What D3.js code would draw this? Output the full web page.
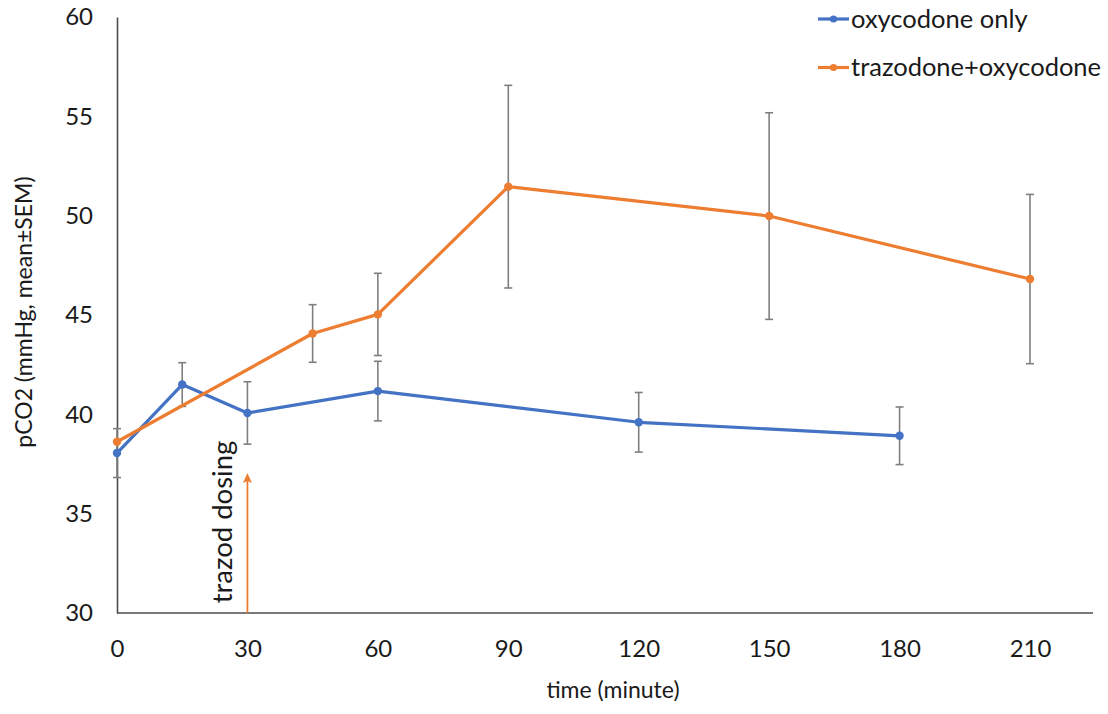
<!DOCTYPE html>
<html>
<head>
<meta charset="utf-8">
<script src="https://cdn.jsdelivr.net/npm/d3@7"></script>
<style>
  html, body { margin: 0; padding: 0; background: #ffffff; }
  svg { display: block; font-family: Lato, "Open Sans", "Liberation Sans", sans-serif; }
</style>
</head>
<body>
<svg id="chart" width="1108" height="714"></svg>
<script>
// Sampling times (minutes)
const timesOxy = [0, 15, 30, 60, 120, 180];
const timesTraz = [0, 45, 60, 90, 150, 210];

// pCO2 means and SEM (mmHg)
const oxyMean = [38.05, 41.5, 40.07, 41.17, 39.6, 38.92];
const oxySem  = [1.23, 1.1, 1.57, 1.5, 1.5, 1.45];
const trazMean = [38.62, 44.07, 45.03, 51.46, 49.98, 46.81];
const trazSem  = [0, 1.45, 2.07, 5.1, 5.2, 4.26];

const xTicks = [0, 30, 60, 90, 120, 150, 180, 210];
const yTicks = [30, 35, 40, 45, 50, 55, 60];

const seriesNames = ["oxycodone only", "trazodone+oxycodone"];
const dosingTime = 30;
const dosingLabel = "trazod dosing";

const colors = ["#4472C4", "#ED7D31"];
const series = [
  { name: seriesNames[0], color: colors[0], pts: timesOxy.map((t, i) => ({ t, m: oxyMean[i], s: oxySem[i] })) },
  { name: seriesNames[1], color: colors[1], pts: timesTraz.map((t, i) => ({ t, m: trazMean[i], s: trazSem[i] })) }
];

const svg = d3.select("#chart");
const x = d3.scaleLinear().domain([0, 210]).range([117, 1030]);
const y = d3.scaleLinear().domain([30, 60]).range([613, 17]);

// Axes
const yAxis = svg.append("g")
  .attr("transform", `translate(${x(0)},0)`)
  .call(d3.axisLeft(y).tickValues(yTicks).tickSize(0).tickPadding(24).tickSizeOuter(0));
yAxis.select(".domain").attr("stroke", "#4d4d4d").attr("stroke-width", 1.6);
yAxis.selectAll("text").attr("font-size", 24).attr("fill", "#1a1a1a")
  .attr("font-family", "Lato, sans-serif");

const xAxis = svg.append("g")
  .attr("transform", `translate(0,${y(30)})`)
  .call(d3.axisBottom(x).tickValues(xTicks).tickSize(0).tickPadding(27).tickSizeOuter(0));
xAxis.select(".domain").remove();
xAxis.selectAll("text").attr("font-size", 24).attr("fill", "#1a1a1a")
  .attr("font-family", "Lato, sans-serif");
svg.append("line")
  .attr("x1", x(0)).attr("x2", 1093)
  .attr("y1", y(30)).attr("y2", y(30))
  .attr("stroke", "#4d4d4d").attr("stroke-width", 1.6);

// Axis titles
svg.append("text")
  .attr("transform", `translate(32,${312}) rotate(-90)`)
  .attr("text-anchor", "middle")
  .attr("font-size", 23).attr("fill", "#1a1a1a")
  .text("pCO2 (mmHg, mean±SEM)");
svg.append("text")
  .attr("x", 613).attr("y", 698)
  .attr("text-anchor", "middle")
  .attr("font-size", 23).attr("fill", "#1a1a1a")
  .text("time (minute)");

// Dosing arrow and label
const ax = x(dosingTime), aTop = y(37.05);
svg.append("line")
  .attr("x1", ax).attr("x2", ax)
  .attr("y1", y(30)).attr("y2", aTop + 6)
  .attr("stroke", colors[1]).attr("stroke-width", 1.8);
svg.append("path")
  .attr("d", `M${ax},${aTop} L${ax + 4.5},${aTop + 10} L${ax},${aTop + 8} L${ax - 4.5},${aTop + 10} Z`)
  .attr("fill", colors[1]);
svg.append("text")
  .attr("transform", `translate(232,${522}) rotate(-90)`)
  .attr("text-anchor", "middle")
  .attr("font-size", 27.5).attr("fill", "#1a1a1a")
  .text(dosingLabel);

// Error bars
series.forEach(s => {
  const g = svg.append("g");
  s.pts.filter(p => p.s > 0).forEach(p => {
    const cx = x(p.t), y1 = y(p.m + p.s), y2 = y(p.m - p.s);
    g.append("line").attr("x1", cx).attr("x2", cx).attr("y1", y1).attr("y2", y2)
      .attr("stroke", "#7f7f7f").attr("stroke-width", 1.6);
    [y1, y2].forEach(yy => g.append("line")
      .attr("x1", cx - 4).attr("x2", cx + 4).attr("y1", yy).attr("y2", yy)
      .attr("stroke", "#7f7f7f").attr("stroke-width", 1.6));
  });
});

// Series lines and markers
const line = d3.line().x(p => x(p.t)).y(p => y(p.m));
series.forEach((s, i) => {
  svg.append("path").datum(s.pts)
    .attr("d", line).attr("fill", "none")
    .attr("stroke", s.color).attr("stroke-width", 3.2)
    .attr("stroke-linejoin", "round");
  svg.append("g").selectAll("circle").data(s.pts).join("circle")
    .attr("cx", p => x(p.t)).attr("cy", p => y(p.m)).attr("r", 4.2)
    .attr("fill", s.color);
});

// Legend
const legend = svg.append("g");
series.forEach((s, i) => {
  const ly = 19 + i * 48.5;
  legend.append("line").attr("x1", 818).attr("x2", 849).attr("y1", ly).attr("y2", ly)
    .attr("stroke", s.color).attr("stroke-width", 3.2);
  legend.append("circle").attr("cx", 833.5).attr("cy", ly).attr("r", 3.6).attr("fill", s.color);
  legend.append("text").attr("x", 851).attr("y", ly).attr("dy", "0.35em")
    .attr("font-size", 25.5).attr("fill", "#1a1a1a")
    .text(s.name);
});
</script>
</body>
</html>
